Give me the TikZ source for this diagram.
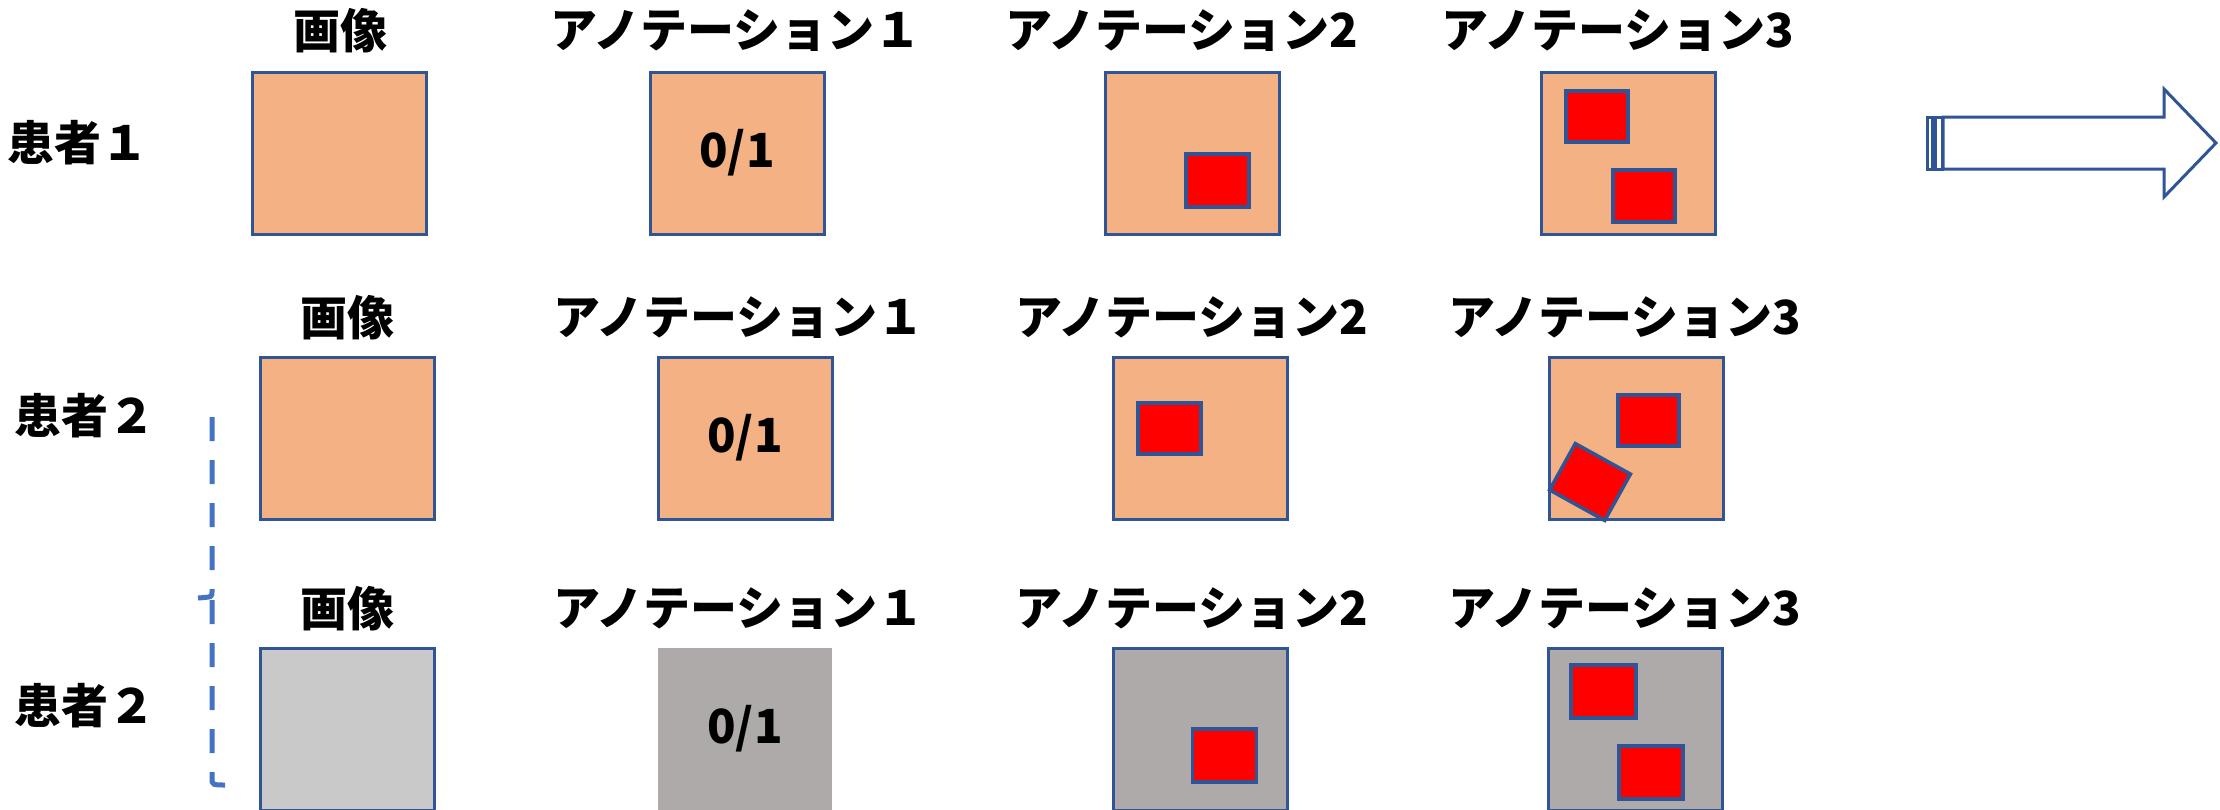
\documentclass[tikz,border=0pt]{standalone}
\usepackage{fontspec}
\setmainfont{Noto Sans CJK JP}
\begin{document}
\begin{tikzpicture}[x=1pt,y=-1pt,
  lbl/.style={font=\fontsize{47}{52}\selectfont\bfseries, inner sep=0pt},
  sq/.style={draw=boxline, line width=3pt, minimum width=174pt, minimum height=162pt, inner sep=0pt, font=\fontsize{47}{52}\selectfont\bfseries},
  rb/.style={draw=boxline, line width=3.5pt, fill=red, inner sep=0pt},
  dashline/.style={draw=dashblue, line width=5pt, dash pattern=on 24pt off 19pt}
]
\definecolor{boxline}{HTML}{2F5597}
\definecolor{orangefill}{HTML}{F4B183}
\definecolor{lightgray}{HTML}{C9C9C9}
\definecolor{darkgray}{HTML}{AEAAAA}
\definecolor{dashblue}{HTML}{4472C4}
\useasboundingbox (0,0) rectangle (2220,809);
\clip (0,0) rectangle (2220,809);

% row labels
\node[lbl] (p1) at (78,143) {患者１};
\node[lbl] (p2) at (85,416) {患者２};
\node[lbl] (p3) at (85,706) {患者２};

% column labels row 1
\node[lbl] (h11) at (340,31) {画像};
\node[lbl] (h12) at (736,31) {アノテーション１};
\node[lbl] (h13) at (1182,31) {アノテーション2};
\node[lbl] (h14) at (1618,31) {アノテーション3};
% row 2
\node[lbl] (h21) at (347,318) {画像};
\node[lbl] (h22) at (739,318) {アノテーション１};
\node[lbl] (h23) at (1192,318) {アノテーション2};
\node[lbl] (h24) at (1625,318) {アノテーション3};
% row 3
\node[lbl] (h31) at (347,609) {画像};
\node[lbl] (h32) at (739,609) {アノテーション１};
\node[lbl] (h33) at (1192,609) {アノテーション2};
\node[lbl] (h34) at (1625,609) {アノテーション3};

% row 1 squares
\node[sq, fill=orangefill] (s11) at (339,153) {};
\node[sq, fill=orangefill] (s12) at (737,153) {0/1};
\node[sq, fill=orangefill] (s13) at (1192,153) {};
\node[sq, fill=orangefill] (s14) at (1628,153) {};
% row 2 squares
\node[sq, fill=orangefill] (s21) at (347,438) {};
\node[sq, fill=orangefill] (s22) at (745,438) {0/1};
\node[sq, fill=orangefill] (s23) at (1200,438) {};
\node[sq, fill=orangefill] (s24) at (1636,438) {};
% row 3 squares
\node[sq, fill=lightgray] (s31) at (347,729) {};
\node[sq, fill=darkgray, draw=none] (s32) at (745,729) {0/1};
\node[sq, fill=darkgray] (s33) at (1200,729) {};
\node[sq, fill=darkgray] (s34) at (1635,729) {};

% red boxes
\node[rb, minimum width=63pt, minimum height=53pt] (r13) at (1217.5,180.5) {};
\node[rb, minimum width=62pt, minimum height=51pt] (r14a) at (1597,116.5) {};
\node[rb, minimum width=62pt, minimum height=52pt] (r14b) at (1644,196) {};
\node[rb, minimum width=63pt, minimum height=51pt] (r23) at (1169.5,428.5) {};
\node[rb, minimum width=61pt, minimum height=51pt] (r24a) at (1648.5,420.5) {};
\node[rb, minimum width=63pt, minimum height=53pt, rotate=-29] (r24b) at (1590,482) {};
\node[rb, minimum width=64pt, minimum height=53pt] (r33) at (1224.5,755.5) {};
\node[rb, minimum width=65pt, minimum height=53pt] (r34a) at (1603.5,691.5) {};
\node[rb, minimum width=64pt, minimum height=53pt] (r34b) at (1651,772.5) {};

% striped arrow
\draw[boxline, line width=3pt, fill=white] (1927,117) rectangle (1932,169);
\draw[boxline, line width=3pt, fill=white] (1935,117) rectangle (1942,169);
\draw[boxline, line width=3pt, fill=white]
  (1943,117) -- (2164,117) -- (2164,89) -- (2216,143) -- (2164,197) -- (2164,169) -- (1943,169) -- cycle;

% dashed bracket
\coordinate (d0) at (212,417);
\coordinate (d1) at (212,592);
\coordinate (d2) at (198,598);
\coordinate (d3) at (212,600);
\coordinate (d4) at (212,778);
\coordinate (d5) at (227,785);
\draw[dashline] (d0) -- (d1) .. controls (212,597) .. (d2);
\draw[dashline] (d3) -- (d4) .. controls (212,785) .. (d5);
\end{tikzpicture}
\end{document}
